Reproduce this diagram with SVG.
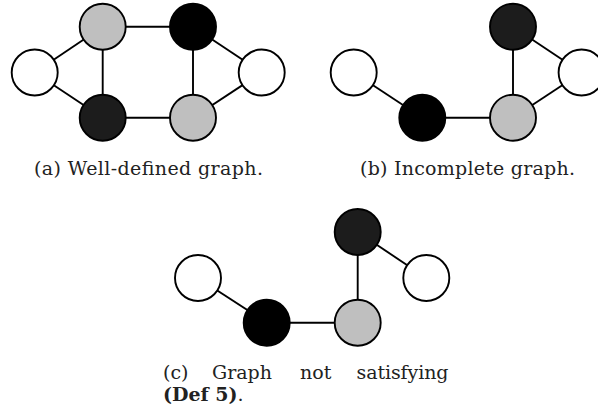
<svg xmlns="http://www.w3.org/2000/svg" width="598" height="411" viewBox="0 0 598 411">
<style>
.n{stroke:#000;stroke-width:1.9}
.w{fill:#fff}.g{fill:#bfbfbf}.k{fill:#000}.d{fill:#1c1c1c}
.e line{stroke:#000;stroke-width:1.9}
text{font-family:"DejaVu Serif","Liberation Serif",serif;font-size:19px;fill:#222}
.b{font-weight:bold}
</style>
<rect width="598" height="411" fill="#fff"/>
<g id="connectors" class="e">
<line x1="34.7" y1="72.5" x2="102.7" y2="26.7"/>
<line x1="34.7" y1="72.5" x2="102.7" y2="117.7"/>
<line x1="102.7" y1="26.7" x2="102.7" y2="117.7"/>
<line x1="102.7" y1="26.7" x2="193" y2="26.7"/>
<line x1="193" y1="26.7" x2="193" y2="117.7"/>
<line x1="193" y1="26.7" x2="261.7" y2="72.5"/>
<line x1="261.7" y1="72.5" x2="193" y2="117.7"/>
<line x1="102.7" y1="117.7" x2="193" y2="117.7"/>
<line x1="353.7" y1="72.5" x2="422.3" y2="117.7"/>
<line x1="422.3" y1="117.7" x2="513" y2="117.7"/>
<line x1="513" y1="117.7" x2="513" y2="26.7"/>
<line x1="513" y1="26.7" x2="581.6" y2="72.5"/>
<line x1="581.6" y1="72.5" x2="513" y2="117.7"/>
<line x1="198" y1="278" x2="266.7" y2="322.7"/>
<line x1="266.7" y1="322.7" x2="357.7" y2="322.7"/>
<line x1="357.7" y1="322.7" x2="357.7" y2="232"/>
<line x1="357.7" y1="232" x2="426.3" y2="278"/>
</g>
<g id="a-left"><circle class="n w" cx="34.7" cy="72.5" r="23"/></g>
<g id="a-topgray"><circle class="n g" cx="102.7" cy="26.7" r="23"/></g>
<g id="a-topblack"><circle class="n k" cx="193" cy="26.7" r="23"/></g>
<g id="a-right"><circle class="n w" cx="261.7" cy="72.5" r="23"/></g>
<g id="a-botdark"><circle class="n d" cx="102.7" cy="117.7" r="23"/></g>
<g id="a-botgray"><circle class="n g" cx="193" cy="117.7" r="23"/></g>
<g id="b-left"><circle class="n w" cx="353.7" cy="72.5" r="23"/></g>
<g id="b-black"><circle class="n k" cx="422.3" cy="117.7" r="23"/></g>
<g id="b-gray"><circle class="n g" cx="513" cy="117.7" r="23"/></g>
<g id="b-dark"><circle class="n d" cx="513" cy="26.7" r="23"/></g>
<g id="b-right"><circle class="n w" cx="581.6" cy="72.5" r="23"/></g>
<g id="c-left"><circle class="n w" cx="198" cy="278" r="23"/></g>
<g id="c-black"><circle class="n k" cx="266.7" cy="322.7" r="23"/></g>
<g id="c-gray"><circle class="n g" cx="357.7" cy="322.7" r="23"/></g>
<g id="c-dark"><circle class="n d" cx="357.7" cy="232" r="23"/></g>
<g id="c-right"><circle class="n w" cx="426.3" cy="278" r="23"/></g>
<g id="captions">
<text x="34" y="175" textLength="229" lengthAdjust="spacing">(a) Well-defined graph.</text>
<text x="360" y="175" textLength="215" lengthAdjust="spacing">(b) Incomplete graph.</text>
<text x="163" y="379">(c)</text>
<text x="212" y="379">Graph</text>
<text x="300" y="379">not</text>
<text x="356.5" y="379" textLength="92">satisfying</text>
<text x="163" y="401"><tspan class="b">(Def 5)</tspan>.</text>
</g>
</svg>
